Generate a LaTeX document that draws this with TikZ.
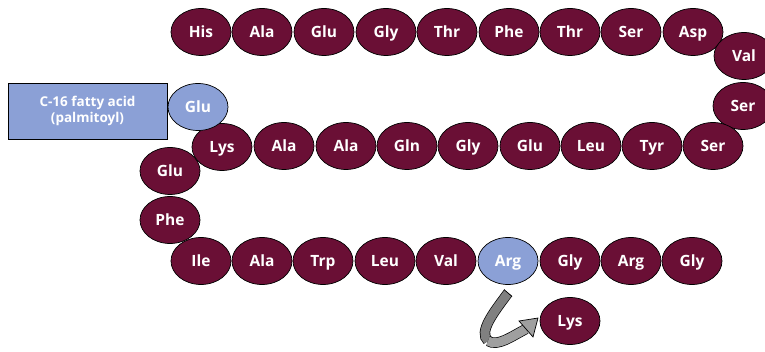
\documentclass[tikz,border=0pt]{standalone}
\usepackage{fontspec}
\setmainfont{Open Sans}
\usetikzlibrary{shapes.geometric}
\definecolor{wine}{HTML}{6A0F35}
\definecolor{paleblue}{HTML}{8BA0D6}

\begin{document}
\begin{tikzpicture}[x=1pt, y=-1pt,
	aa/.style={ellipse, draw=black, line width=0.7pt, fill=wine, text=white, minimum width=60pt, minimum height=47pt, inner sep=0pt, text height=11pt, text depth=0pt, font=\fontsize{15.5}{17}\selectfont\bfseries},
	aablue/.style={aa, fill=paleblue}]
	\useasboundingbox [fill=white] (0,0) rectangle (765,352);
	% top row
	\node [aa] (his) at (201,32) {His};
	\node [aa] (ala1) at (262,32) {Ala};
	\node [aa] (glu1) at (324,32) {Glu};
	\node [aa] (gly1) at (386,32) {Gly};
	\node [aa] (thr1) at (447,32) {Thr};
	\node [aa] (phe1) at (509,32) {Phe};
	\node [aa] (thr2) at (570,32) {Thr};
	\node [aa] (ser1) at (631,32) {Ser};
	\node [aa] (asp) at (693,32) {Asp};
	\node [aa] (val1) at (744,56) {Val};
	\node [aa] (ser2) at (743,106) {Ser};
	% middle row
	\node [aa] (ser3) at (713,146) {Ser};
	\node [aa] (tyr) at (652,146) {Tyr};
	\node [aa] (leu1) at (591,146) {Leu};
	\node [aa] (glu2) at (530,146) {Glu};
	\node [aa] (gly2) at (468,146) {Gly};
	\node [aa] (gln) at (407,146) {Gln};
	\node [aa] (ala2) at (346,146) {Ala};
	\node [aa] (ala3) at (284,146) {Ala};
	\node [aa] (glu3) at (170,171) {Glu};
	\node [aa] (lys1) at (222,147) {Lys};
	\node [aablue] (glu4) at (198,107) {Glu};
	\node [draw=black, line width=0.7pt, fill=paleblue, text=white, minimum width=159pt, minimum height=56pt, align=center, font=\fontsize{13.5}{16}\selectfont\bfseries] (acid) at (87.5,111) {C-16 fatty acid\\(palmitoyl)};
	% bottom row
	\node [aa] (phe2) at (170,220) {Phe};
	\node [aa] (ile) at (201,261) {Ile};
	\node [aa] (ala4) at (262,261) {Ala};
	\node [aa] (trp) at (323,261) {Trp};
	\node [aa] (leu2) at (385,261) {Leu};
	\node [aa] (val2) at (446,261) {Val};
	\node [aablue] (arg1) at (508,261) {Arg};
	\node [aa] (gly3) at (570,261) {Gly};
	\node [aa] (arg2) at (631,261) {Arg};
	\node [aa] (gly4) at (692,261) {Gly};
	\node [aa] (lys2) at (570,321) {Lys};
	% cleavage arrow
	\coordinate (cut) at (508,293);
	\coordinate (bend) at (488,341);
	\coordinate (base) at (526,329);
	\draw [double=gray!100, double distance=9pt, line width=0.7pt] (cut) .. controls (494,312) and (478,332) .. (bend);
	\draw [double=gray!75, double distance=9pt, line width=0.7pt] (bend) .. controls (498,347) and (512,336) .. (base);
	\draw [line width=0.7pt] (504,289.5) -- (512,296.5);
	\draw [fill=gray!75, line width=0.7pt, line join=miter] (519,321) -- (538,318) -- (533,337) -- cycle;
\end{tikzpicture}
\end{document}
